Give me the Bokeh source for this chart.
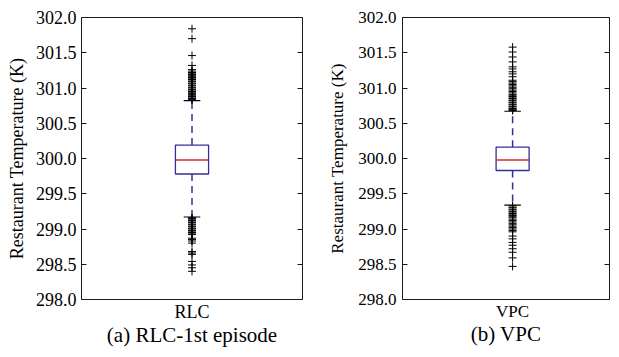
from bokeh.plotting import figure
from bokeh.layouts import row
from bokeh.models import LinearAxis, FixedTicker, PrintfTickFormatter, Range1d
from bokeh.embed import file_html
from bokeh.resources import INLINE

# ---------------- data ----------------
categories = ["RLC", "VPC"]
captions = ["(a) RLC-1st episode", "(b) VPC"]
q1 = [299.78, 299.83]
median = [299.98, 299.98]
q3 = [300.19, 300.16]
whisker_low = [299.17, 299.34]
whisker_high = [300.82, 300.67]

rlc_outliers = [
    300.83, 300.84, 300.85, 300.86, 300.88, 300.89, 300.91, 300.92, 300.94, 300.95,
    300.97, 300.98, 301.00, 301.01, 301.03, 301.04, 301.06, 301.07, 301.09, 301.10,
    301.12, 301.13, 301.15, 301.16, 301.18, 301.19, 301.21, 301.22, 301.24, 301.26,
    301.32, 301.46, 301.70, 301.84,
    299.16, 299.15, 299.13, 299.12, 299.10, 299.09, 299.07, 299.06, 299.04, 299.03,
    299.01, 299.00, 298.98, 298.97, 298.95, 298.93, 298.92,
    298.87, 298.85, 298.83, 298.80, 298.68, 298.66, 298.64,
    298.54, 298.49, 298.45, 298.40,
]
vpc_outliers = [
    300.68, 300.69, 300.70, 300.71, 300.73, 300.74, 300.76, 300.77, 300.79, 300.80,
    300.82, 300.83, 300.85, 300.86, 300.88, 300.89, 300.91, 300.93, 300.95, 300.97,
    300.99, 301.01, 301.03, 301.05, 301.07, 301.09, 301.11,
    301.16, 301.20, 301.23, 301.27, 301.30, 301.37, 301.44, 301.51, 301.58,
    299.33, 299.31, 299.30, 299.28, 299.27, 299.25, 299.24, 299.22, 299.21, 299.19,
    299.18, 299.16, 299.14, 299.12, 299.10, 299.08, 299.06, 299.04, 299.02, 299.00,
    298.98, 298.96,
    298.90, 298.86, 298.81, 298.77, 298.72, 298.67, 298.59, 298.47,
]
outliers = [rlc_outliers, vpc_outliers]
y_ticks = [298.0, 298.5, 299.0, 299.5, 300.0, 300.5, 301.0, 301.5, 302.0]
y_label = "Restaurant Temperature (K)"

# ---------------- styling ----------------
FONT = "Liberation Serif"
BLUE = "#30309a"
RED = "#cc3030"
POS = 1.0
BOX_W = 0.15
CAP_W = 0.075


def make_panel(i, width, b_left, b_right, x_end, tick_fs, label_fs,
               tick_standoff, label_standoff):
    p = figure(width=width, height=349,
               x_range=Range1d(0.5, x_end), y_range=Range1d(298.0, 302.0),
               output_backend="svg", toolbar_location=None,
               min_border_left=b_left, min_border_right=b_right,
               min_border_top=17, min_border_bottom=49)
    p.background_fill_color = "white"
    p.border_fill_color = "white"
    p.outline_line_color = "#1a1a1a"
    p.outline_line_width = 1
    p.xgrid.grid_line_color = None
    p.ygrid.grid_line_color = None

    # y axis (left)
    ya = p.yaxis[0]
    ya.ticker = FixedTicker(ticks=y_ticks)
    ya.formatter = PrintfTickFormatter(format="%.1f")
    ya.major_tick_in = 5
    ya.major_tick_out = 0
    ya.minor_tick_in = 0
    ya.minor_tick_out = 0
    ya.major_tick_line_color = "#1a1a1a"
    ya.axis_line_color = None
    ya.major_label_text_font = FONT
    ya.major_label_text_font_size = f"{tick_fs}px"
    ya.major_label_text_color = "black"
    ya.major_label_standoff = tick_standoff
    ya.axis_label = y_label
    ya.axis_label_text_font = FONT
    ya.axis_label_text_font_size = f"{label_fs}px"
    ya.axis_label_text_font_style = "normal"
    ya.axis_label_text_color = "black"
    ya.axis_label_standoff = label_standoff

    # right ticks only (no labels)
    ra = LinearAxis(ticker=FixedTicker(ticks=y_ticks),
                    major_label_overrides={t: "" for t in y_ticks},
                    major_label_standoff=0,
                    major_tick_in=5, major_tick_out=0,
                    minor_tick_in=0, minor_tick_out=0,
                    major_tick_line_color="#1a1a1a", axis_line_color=None)
    p.add_layout(ra, "right")

    # x axis (bottom)
    xa = p.xaxis[0]
    xa.ticker = FixedTicker(ticks=[POS])
    xa.major_label_overrides = {POS: categories[i]}
    xa.major_tick_in = 0
    xa.major_tick_out = 0
    xa.minor_tick_in = 0
    xa.minor_tick_out = 0
    xa.axis_line_color = None
    xa.major_label_text_font = FONT
    xa.major_label_text_font_size = f"{tick_fs}px"
    xa.major_label_text_color = "black"
    xa.major_label_standoff = 2
    xa.axis_label = captions[i]
    xa.axis_label_text_font = FONT
    xa.axis_label_text_font_size = "21px"
    xa.axis_label_text_font_style = "normal"
    xa.axis_label_text_color = "black"
    xa.axis_label_standoff = -2

    # whiskers
    p.segment(x0=[POS, POS], x1=[POS, POS],
              y0=[q3[i], q1[i]], y1=[whisker_high[i], whisker_low[i]],
              line_color=BLUE, line_width=1.5, line_dash="7 5")
    # caps
    p.segment(x0=[POS - CAP_W / 2] * 2, x1=[POS + CAP_W / 2] * 2,
              y0=[whisker_high[i], whisker_low[i]], y1=[whisker_high[i], whisker_low[i]],
              line_color="black", line_width=1.2)
    # fliers
    p.scatter(x=[POS] * len(outliers[i]), y=outliers[i], marker="cross",
              size=8, line_color="black", line_width=1)
    # box
    p.quad(left=[POS - BOX_W / 2], right=[POS + BOX_W / 2],
           bottom=[q1[i]], top=[q3[i]],
           fill_color=None, line_color=BLUE, line_width=1.3)
    # median
    p.segment(x0=[POS - BOX_W / 2], x1=[POS + BOX_W / 2],
              y0=[median[i]], y1=[median[i]],
              line_color=RED, line_width=1.5)
    return p


# right panel is cut off at the window edge in the reference, so its x range ends early
p1 = make_panel(0, 310, 81, 8, 1.5, 18, 18, 5, 6)
p2 = make_panel(1, 301, 92, 2, 1.44, 17, 17, 6, 8)

layout = row(p1, p2)
open("out.html", "w").write(file_html(layout, INLINE))
